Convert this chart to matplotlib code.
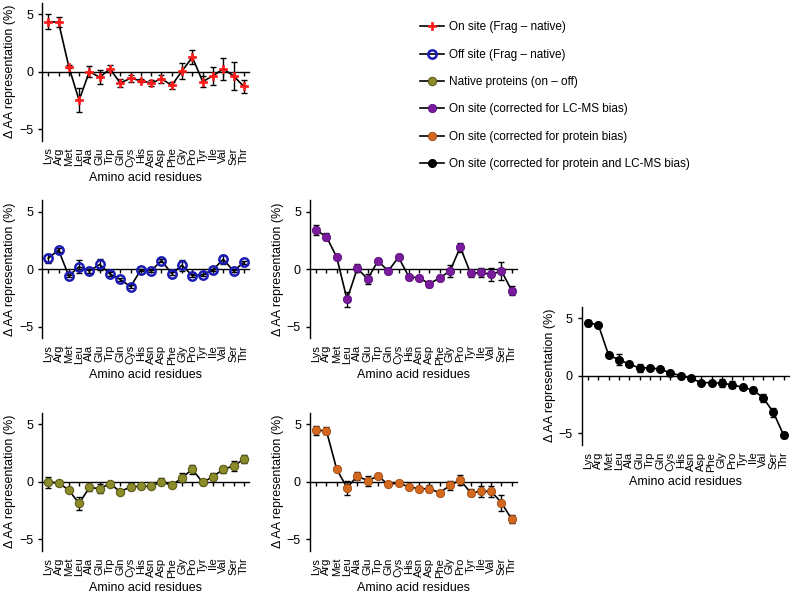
import matplotlib
matplotlib.use('Agg')
import matplotlib.pyplot as plt
import numpy as np

plt.rcParams['font.family'] = ['Liberation Sans', 'DejaVu Sans']
plt.rcParams['font.size'] = 8

residues = ['Lys', 'Arg', 'Met', 'Leu', 'Ala', 'Glu', 'Trp', 'Gln', 'Cys', 'His',
            'Asn', 'Asp', 'Phe', 'Gly', 'Pro', 'Tyr', 'Ile', 'Val', 'Ser', 'Thr']

# On site (Frag - native)
on_site = [4.34, 4.3, 0.43, -2.5, 0.0, -0.5, 0.23, -1.0, -0.58, -0.8,
           -1.0, -0.63, -1.2, 0.05, 1.25, -0.87, -0.38, 0.23, -0.38, -1.3]
on_site_err = [0.65, 0.4, 0.1, 1.05, 0.45, 0.6, 0.3, 0.35, 0.3, 0.15,
               0.3, 0.35, 0.3, 0.7, 0.6, 0.45, 0.75, 0.95, 1.25, 0.6]

# Off site (Frag - native)
off_site = [0.93, 1.66, -0.6, 0.2, -0.17, 0.4, -0.44, -0.9, -1.54, -0.06,
            -0.15, 0.73, -0.4, 0.32, -0.58, -0.5, -0.06, 0.84, -0.17, 0.58]
off_site_err = [0.4, 0.15, 0.1, 0.55, 0.2, 0.5, 0.15, 0.1, 0.15, 0.1,
                0.1, 0.15, 0.15, 0.45, 0.15, 0.1, 0.1, 0.4, 0.1, 0.15]

# Native proteins (on - off)
native = [-0.06, -0.09, -0.73, -1.89, -0.5, -0.6, -0.17, -0.87, -0.44, -0.4,
          -0.4, 0.0, -0.32, 0.35, 1.08, -0.06, 0.44, 1.08, 1.37, 1.95]
native_err = [0.5, 0.1, 0.1, 0.6, 0.3, 0.4, 0.1, 0.1, 0.3, 0.1,
              0.1, 0.3, 0.1, 0.4, 0.4, 0.2, 0.3, 0.3, 0.4, 0.35]

# On site (corrected for LC-MS bias)
lcms = [3.37, 2.82, 1.02, -2.65, 0.06, -0.87, 0.7, -0.17, 1.02, -0.67,
        -0.78, -1.28, -0.78, -0.17, 1.89, -0.38, -0.3, -0.47, -0.17, -1.89]
lcms_err = [0.45, 0.3, 0.1, 0.65, 0.35, 0.45, 0.1, 0.1, 0.1, 0.1,
            0.1, 0.25, 0.15, 0.5, 0.4, 0.3, 0.4, 0.55, 0.75, 0.4]

# On site (corrected for protein bias)
protein = [4.48, 4.42, 1.08, -0.52, 0.49, 0.09, 0.49, -0.23, -0.12, -0.44,
           -0.61, -0.61, -0.96, -0.32, 0.15, -0.96, -0.84, -0.84, -1.83, -3.28]
protein_err = [0.4, 0.3, 0.1, 0.6, 0.35, 0.45, 0.1, 0.1, 0.1, 0.1,
               0.1, 0.3, 0.1, 0.4, 0.45, 0.3, 0.45, 0.5, 0.7, 0.35]

# On site (corrected for protein and LC-MS bias)
both = [4.6, 4.43, 1.78, 1.41, 1.0, 0.69, 0.69, 0.57, 0.26, 0.0,
        -0.23, -0.6, -0.6, -0.66, -0.78, -1.0, -1.24, -1.9, -3.19, -5.17]
both_err = [0.25, 0.15, 0.15, 0.45, 0.15, 0.35, 0.15, 0.1, 0.1, 0.1,
            0.1, 0.1, 0.15, 0.35, 0.3, 0.15, 0.3, 0.35, 0.4, 0.2]


def panel(fig, rect, y, yerr, label, mstyle):
    ax = fig.add_axes(rect)
    x = np.arange(len(residues))
    ax.errorbar(x, y, yerr=yerr, fmt='none', ecolor='black', elinewidth=1,
                capsize=2.2, capthick=1, zorder=3)
    line, = ax.plot(x, y, color='black', lw=1.2, zorder=4, label=label, **mstyle)
    ax.set_xlim(-0.6, 19.5)
    ax.set_ylim(-6, 6)
    ax.set_yticks([-5, 0, 5], ['\u22125', '0', '5'])
    ax.tick_params(axis='y', direction='out', length=3, width=1, labelsize=9)
    ax.spines['top'].set_visible(False)
    ax.spines['right'].set_visible(False)
    ax.spines['bottom'].set_position(('data', 0))
    ax.spines['left'].set_linewidth(1)
    ax.spines['bottom'].set_linewidth(1)
    ax.set_xticks(x)
    ax.tick_params(axis='x', direction='out', length=3, width=1, labelbottom=False)
    sec = ax.secondary_xaxis('bottom')
    sec.set_xticks(x, residues, rotation=90)
    sec.tick_params(length=0, pad=5, labelsize=8)
    sec.spines['bottom'].set_visible(False)
    sec.set_xlabel('Amino acid residues', fontsize=9, labelpad=3)
    ax.set_ylabel('\u0394 AA representation (%)', fontsize=9, labelpad=2)
    return line


fig = plt.figure(figsize=(7.96, 5.93), dpi=100)

w, h = 0.260, 0.2327
handles = []
handles.append(panel(fig, [0.0528, 0.763, w, h], on_site, on_site_err,
                     'On site (Frag \u2013 native)',
                     dict(marker='P', ms=6, mfc='#ff1a1a', mec='#ff1a1a', mew=0.5)))
handles.append(panel(fig, [0.0528, 0.430, w, h], off_site, off_site_err,
                     'Off site (Frag \u2013 native)',
                     dict(marker='o', ms=6, mfc='none', mec='#1a1ab4', mew=1.8)))
handles.append(panel(fig, [0.0528, 0.0713, w, h], native, native_err,
                     'Native proteins (on \u2013 off)',
                     dict(marker='o', ms=6, mfc='#8c8c2a', mec='#5c5c1a', mew=0.8)))
handles.append(panel(fig, [0.3894, 0.430, w, h], lcms, lcms_err,
                     'On site (corrected for LC-MS bias)',
                     dict(marker='o', ms=6, mfc='#7a1a9c', mec='#5a1078', mew=0.6)))
handles.append(panel(fig, [0.3894, 0.0713, w, h], protein, protein_err,
                     'On site (corrected for protein bias)',
                     dict(marker='o', ms=6, mfc='#d2691e', mec='#a04a14', mew=0.6)))
handles.append(panel(fig, [0.731, 0.250, w, h], both, both_err,
                     'On site (corrected for protein and LC-MS bias)',
                     dict(marker='o', ms=5.5, mfc='black', mec='black')))

fig.legend(handles=handles, loc='upper left', bbox_to_anchor=(0.5145, 0.982),
           frameon=False, fontsize=8.5, labelspacing=1.3, handlelength=2.0,
           handletextpad=0.45)

plt.savefig('out.png', dpi=100)
